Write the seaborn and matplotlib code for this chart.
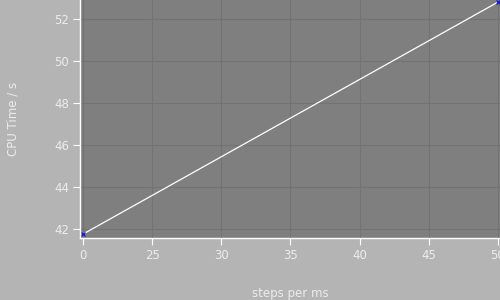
import matplotlib
matplotlib.use("Agg")
import matplotlib.pyplot as plt
import seaborn as sns
import pandas as pd

# Data
tick_labels = ["0", "25", "30", "35", "40", "45", "50"]
steps = ["0", "50"]
cpu_time = [41.75, 52.8]
y_ticks = [42, 44, 46, 48, 50, 52]

sns.set_theme(style="darkgrid")
plt.rcParams['font.family'] = ['DejaVu Sans']

fig_bg = "#b4b4b4"
ax_bg = "#7f7f7f"
txt = "#ececec"

fig = plt.figure(figsize=(5, 3), dpi=100, facecolor=fig_bg)
ax = fig.add_axes([0.16, 0.207, 0.84, 0.793])
ax.set_facecolor(ax_bg)

df = pd.DataFrame({"pos": [tick_labels.index(s) for s in steps], "cpu": cpu_time})
sns.lineplot(data=df, x="pos", y="cpu", ax=ax, color="white", linewidth=0.9,
             marker="x", markersize=3, markeredgecolor="#2020d0", markerfacecolor="#2020d0",
             markeredgewidth=1.0)

ax.set_xticks(range(len(tick_labels)))
ax.set_xticklabels(tick_labels)
ax.set_yticks(y_ticks)
ax.set_xlim(-0.043, 6.03)
ax.set_ylim(41.57, 52.9)

ax.grid(True, color="#737373", linewidth=0.8)
for s in ["top", "right"]:
    ax.spines[s].set_visible(False)
for s in ["left", "bottom"]:
    ax.spines[s].set_visible(True)
    ax.spines[s].set_color("white")
    ax.spines[s].set_linewidth(1.0)

ax.tick_params(axis="both", colors="white", labelcolor=txt, labelsize=8.5,
               length=5, width=0.8, direction="out", bottom=True, left=True, pad=3)

ax.set_xlabel("steps per ms", color=txt, fontsize=8.5, labelpad=18)
ax.set_ylabel("CPU Time / s", color=txt, fontsize=8.5, labelpad=25)

fig.savefig("out.png", dpi=100, facecolor=fig_bg)
